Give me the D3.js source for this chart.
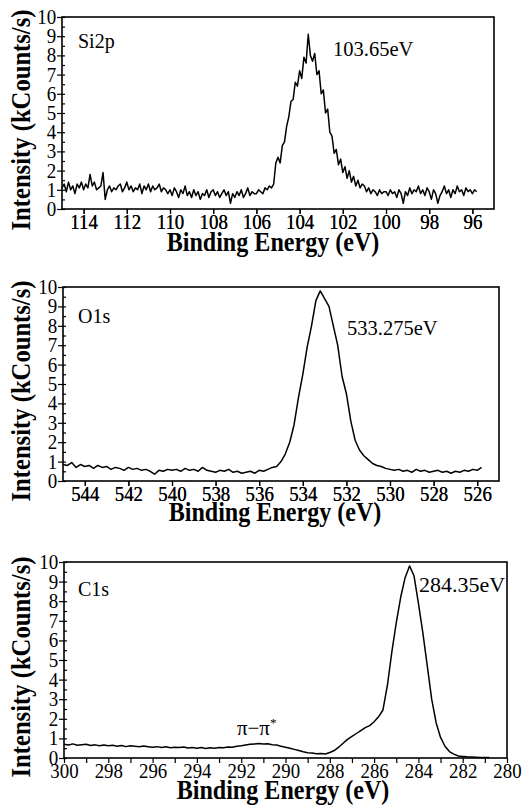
<!DOCTYPE html>
<html>
<head>
<meta charset="utf-8">
<script src="https://cdn.jsdelivr.net/npm/d3@7"></script>
<style>
    body { margin: 0; background: #fff; }
</style>
</head>
<body>
<svg id="chart" width="523" height="806"></svg>
<script>
// spectra (kCounts/s), even energy grid from start going down
const si2pStart = 115.0, si2pStep = 0.1;
const si2pCounts = [
    1.1, 1.3, 0.9, 1.4, 1.0, 1.2, 0.8, 1.3, 1.1, 1.4,
    1.0, 1.3, 1.1, 1.8, 1.2, 1.4, 1.0, 1.1, 1.2, 1.9,
    0.5, 1.0, 1.2, 0.9, 1.1, 1.0, 1.2, 1.3, 0.9, 1.1,
    1.4, 1.0, 1.2, 0.9, 1.1, 1.0, 1.3, 0.8, 1.2, 1.0,
    1.3, 0.9, 1.2, 1.0, 1.1, 1.3, 0.9, 1.1, 1.0, 0.8,
    1.0, 0.7, 1.1, 0.9, 0.6, 1.0, 0.8, 1.2, 0.7, 0.9,
    0.6, 1.0, 0.7, 0.9, 0.5, 0.8, 0.7, 1.0, 0.6, 0.9,
    1.0, 0.7, 0.9, 0.6, 0.8, 1.0, 0.7, 0.9, 0.3, 0.8,
    0.6, 0.9, 0.7, 1.0, 0.6, 0.8, 1.1, 0.7, 0.9, 0.8,
    0.8, 1.0, 0.9, 0.8, 1.1, 1.0, 1.2, 1.1, 1.3, 2.4,
    2.7, 2.4, 3.3, 3.5, 4.3, 4.8, 5.6, 5.7, 6.6, 6.4,
    7.2, 6.8, 7.9, 7.6, 9.1, 8.0, 7.7, 8.1, 7.0, 7.2,
    6.0, 6.2, 5.0, 5.2, 4.0, 3.8, 2.9, 3.1, 2.3, 2.6,
    1.9, 2.2, 1.6, 2.0, 1.4, 1.7, 1.2, 1.5, 1.1, 1.3,
    1.2, 0.9, 1.1, 0.8, 1.0, 0.9, 0.7, 1.0, 0.8, 0.9,
    0.9, 0.7, 1.0, 0.8, 0.9, 0.6, 1.0, 0.8, 0.3, 0.9,
    0.7, 1.1, 0.8, 1.0, 0.9, 1.2, 0.8, 1.0, 0.7, 1.1,
    0.9, 0.5, 1.0, 0.8, 0.3, 0.7, 0.9, 1.2, 0.8, 1.0,
    0.6, 1.0, 0.8, 1.2, 0.9, 1.0, 0.7, 1.1, 0.9, 1.0,
    0.8, 1.0, 0.9
];

const o1sStart = 545.0, o1sStep = 0.2;
const o1sCounts = [
    0.85, 0.80, 0.95, 0.70, 0.85, 0.75, 0.80, 0.65, 0.80, 0.70,
    0.75, 0.60, 0.70, 0.65, 0.55, 0.70, 0.60, 0.65, 0.55, 0.60,
    0.50, 0.35, 0.55, 0.50, 0.60, 0.55, 0.60, 0.50, 0.65, 0.55,
    0.60, 0.50, 0.70, 0.55, 0.50, 0.45, 0.55, 0.50, 0.60, 0.45,
    0.50, 0.40, 0.45, 0.50, 0.40, 0.55, 0.50, 0.60, 0.70, 0.75,
    1.00, 1.40, 2.00, 2.90, 4.30, 5.50, 6.90, 8.00, 9.30, 9.80,
    9.40, 9.00, 8.00, 7.00, 5.40, 4.50, 3.10, 2.10, 1.60, 1.30,
    1.10, 0.90, 0.80, 0.75, 0.65, 0.60, 0.55, 0.60, 0.50, 0.55,
    0.45, 0.60, 0.50, 0.55, 0.45, 0.50, 0.55, 0.45, 0.50, 0.40,
    0.50, 0.45, 0.55, 0.50, 0.60, 0.55, 0.70
];

const c1sStart = 300.0, c1sStep = 0.2;
const c1sCounts = [
    0.70, 0.66, 0.72, 0.65, 0.68, 0.70, 0.64, 0.67, 0.62, 0.66,
    0.63, 0.65, 0.60, 0.64, 0.58, 0.62, 0.60, 0.57, 0.61, 0.58,
    0.55, 0.58, 0.54, 0.57, 0.52, 0.55, 0.53, 0.56, 0.51, 0.54,
    0.50, 0.53, 0.49, 0.52, 0.50, 0.54, 0.52, 0.56, 0.55, 0.60,
    0.62, 0.66, 0.70, 0.72, 0.74, 0.72, 0.73, 0.68, 0.66, 0.60,
    0.55, 0.50, 0.44, 0.38, 0.32, 0.27, 0.25, 0.22, 0.23, 0.20,
    0.28, 0.38, 0.55, 0.75, 0.95, 1.10, 1.25, 1.40, 1.55, 1.65,
    1.85, 2.10, 2.45, 3.70, 5.40, 6.90, 8.20, 9.20, 9.80, 9.30,
    7.90, 6.40, 4.70, 3.00, 1.80, 1.05, 0.60, 0.33, 0.20, 0.10,
    0.08, 0.06, 0.05, 0.04, 0.03, 0.03, 0.02
];

// axes
const yTicks = [0, 1, 2, 3, 4, 5, 6, 7, 8, 9, 10];
const si2pTicks = [114, 112, 110, 108, 106, 104, 102, 100, 98, 96];
const o1sTicks = [544, 542, 540, 538, 536, 534, 532, 530, 528, 526];
const c1sTicks = [300, 298, 296, 294, 292, 290, 288, 286, 284, 282, 280];

const FONT = 'Liberation Serif';

const svg = d3.select('#chart');

const panels = [
    { counts: si2pCounts, start: si2pStart, step: si2pStep, domain: [115, 95], ticks: si2pTicks,
      left: 62, right: 494, top: 17, bottom: 209, yTitleX: 30, xTitleX: 273, xTitleY: 251,
      name: 'Si2p', nameX: 78, nameY: 48, peak: '103.65eV', peakX: 333, peakY: 56, peakSize: 20.5 },
    { counts: o1sCounts, start: o1sStart, step: o1sStep, domain: [545, 525], ticks: o1sTicks,
      left: 63, right: 499, top: 287, bottom: 481, yTitleX: 30, xTitleX: 275, xTitleY: 521,
      name: 'O1s', nameX: 78, nameY: 323, peak: '533.275eV', peakX: 347, peakY: 335, peakSize: 20.5 },
    { counts: c1sCounts, start: c1sStart, step: c1sStep, domain: [300, 280], ticks: c1sTicks,
      left: 64, right: 507, top: 562, bottom: 758, yTitleX: 30, xTitleX: 283, xTitleY: 799,
      name: 'C1s', nameX: 78, nameY: 596, peak: '284.35eV', peakX: 419, peakY: 592, peakSize: 22 }
];

function label(g, str, x, y, opts) {
    opts = opts || {};
    let tf = 'translate(' + x + ',' + y + ')';
    if (opts.rotate) tf += ' rotate(' + opts.rotate + ')';
    tf += ' scale(' + (opts.sx || 1) + ',1)';
    return g.append('text')
        .attr('transform', tf)
        .attr('text-anchor', opts.anchor || 'start')
        .attr('font-family', FONT)
        .attr('font-size', opts.size || 20)
        .attr('font-weight', opts.weight || 'normal')
        .text(str);
}

function drawPanel(p) {
    const x = d3.scaleLinear().domain(p.domain).range([p.left, p.right]);
    const y = d3.scaleLinear().domain([0, 10]).range([p.bottom, p.top]);
    const g = svg.append('g');

    // x axis: labelled ticks on the listed values, plain ticks between
    const xAxis = d3.axisBottom(x)
        .tickValues(p.ticks.concat(d3.range(p.domain[1] + 1, p.domain[0], 2)))
        .tickSize(5).tickPadding(0)
        .tickFormat(d => p.ticks.includes(d) ? d : '');
    const gx = g.append('g').attr('transform', 'translate(0,' + p.bottom + ')').call(xAxis);

    // y axis: outer ticks on integers, short inner ticks every half
    const yAxis = d3.axisLeft(y).tickValues(yTicks).tickSize(5).tickPadding(1);
    const gy = g.append('g').attr('transform', 'translate(' + p.left + ',0)').call(yAxis);
    g.append('g').attr('transform', 'translate(' + p.left + ',0)')
        .call(d3.axisLeft(y).tickValues(d3.range(0, 10.01, 0.5)).tickSize(-3).tickFormat(''));

    g.selectAll('.domain').remove();
    g.selectAll('.tick line').attr('stroke', '#000').attr('stroke-width', 1.2);
    g.selectAll('.tick text').filter(function() { return this.textContent === ''; }).remove();
    gx.attr('font-family', FONT);
    gy.attr('font-family', FONT);
    gx.selectAll('text').attr('font-family', FONT).attr('font-size', 20.5).attr('transform', 'scale(0.92,1)');
    gy.selectAll('text').attr('font-family', FONT).attr('font-size', 20).attr('transform', 'scale(0.95,1)');

    // spectrum
    const pts = p.counts.map((c, i) => [p.start - i * p.step, c]);
    g.append('path')
        .datum(pts)
        .attr('d', d3.line().x(d => x(d[0])).y(d => y(d[1])))
        .attr('fill', 'none')
        .attr('stroke', '#000')
        .attr('stroke-width', 1.5)
        .attr('stroke-linejoin', 'round');

    // frame
    g.append('rect')
        .attr('x', p.left).attr('y', p.top)
        .attr('width', p.right - p.left).attr('height', p.bottom - p.top)
        .attr('fill', 'none').attr('stroke', '#000').attr('stroke-width', 1.6);

    // titles
    label(g, 'Intensity (kCounts/s)', p.yTitleX, (p.top + p.bottom) / 2 + 7,
          { rotate: -90, anchor: 'middle', size: 28, weight: 'bold', sx: 0.88 });
    label(g, 'Binding Energy (eV)', p.xTitleX, p.xTitleY,
          { anchor: 'middle', size: 28, weight: 'bold', sx: 0.86 });

    label(g, p.name, p.nameX, p.nameY, { size: 20 });
    label(g, p.peak, p.peakX, p.peakY, { size: p.peakSize });

    return x;
}

const xs = panels.map(drawPanel);

// pi-pi* satellite in the C1s panel
const pp = svg.append('text')
    .attr('x', xs[2](291.3)).attr('y', 735)
    .attr('text-anchor', 'middle')
    .attr('font-family', FONT)
    .attr('font-size', 21);
pp.append('tspan').text('π−π');
pp.append('tspan').attr('dy', -8).attr('font-size', 13).text('*');
</script>
</body>
</html>
